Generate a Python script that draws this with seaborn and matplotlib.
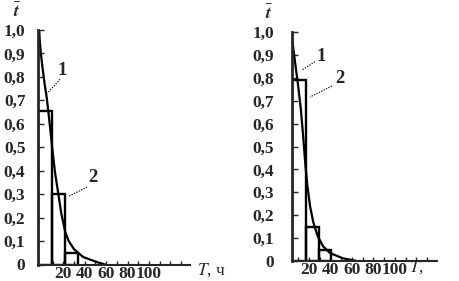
import numpy as np
import seaborn as sns
import matplotlib
matplotlib.use("Agg")
import matplotlib.pyplot as plt

sns.set_style("ticks")
plt.rcParams["font.family"] = ["Liberation Serif", "DejaVu Serif"]
plt.rcParams["mathtext.fontset"] = "stix"

# ---- data ----
# left panel
left_edges = [-3.7, 9.5, 21.7, 33.8]
left_heights = [0.655, 0.30, 0.049]
left_curve_x = [-2.6, -2.0, -1.0, 0.5, 2.5, 4.5, 6.0, 7.7, 9.5, 12.3, 15.0, 18.0, 21.7, 25.0, 30.0, 38.5, 51.6, 59.0]
left_curve_y = [1.0, 0.95, 0.90, 0.84, 0.77, 0.71, 0.65, 0.58, 0.50, 0.39, 0.31, 0.22, 0.14, 0.10, 0.065, 0.032, 0.01, 0.0]

# right panel
right_edges = [4.2, 17.2, 29.3, 40.5]
right_heights = [0.79, 0.15, 0.048]
right_curve_x = [4.3, 7.0, 9.8, 12.5, 14.5, 16.5, 18.5, 21.0, 24.0, 28.0, 33.0, 39.5, 51.5, 64.5]
right_curve_y = [0.97, 0.87, 0.77, 0.66, 0.55, 0.43, 0.33, 0.24, 0.17, 0.11, 0.065, 0.035, 0.012, 0.0]

y_ticks = [0, 0.1, 0.2, 0.3, 0.4, 0.5, 0.6, 0.7, 0.8, 0.9, 1.0]
y_tick_labels = ["0", "0,1", "0,2", "0,3", "0,4", "0,5", "0,6", "0,7", "0,8", "0,9", "1,0"]
x_ticks = [20, 40, 60, 80, 100]
x_tick_labels = ["20", "40", "60", "80", "100"]

W, H = 460, 281
fig = plt.figure(figsize=(W / 100, H / 100), dpi=100, facecolor="w")


def px_axes(l, r, b, t):
    return fig.add_axes([l / W, (H - b) / H, (r - l) / W, (b - t) / H])


def draw_panel(ax, edges, heights, cx, cy, xlim, ypad, lab1, lead1, lab2, lead2):
    centers = [(edges[i] + edges[i + 1]) / 2 for i in range(len(heights))]
    sns.histplot(x=centers, weights=heights, bins=edges, ax=ax, fill=False,
                 color="black", linewidth=1.7, element="bars")
    sns.lineplot(x=cx, y=cy, ax=ax, color="black", linewidth=1.6)
    ax.set_xlim(*xlim)
    ax.set_ylim(0, 1.0)
    ax.set_xlabel("")
    ax.set_ylabel("")
    for s in ["top", "right"]:
        ax.spines[s].set_visible(False)
    ax.spines["left"].set_linewidth(2)
    ax.spines["bottom"].set_linewidth(1.5)
    ax.set_yticks(y_ticks)
    ax.set_yticklabels(y_tick_labels, fontweight="bold")
    ax.set_xticks(x_ticks)
    ax.set_xticklabels(x_tick_labels, fontweight="bold")
    ax.set_xticks(np.arange(10, 140, 10), minor=True)
    ax.tick_params(axis="y", direction="in", length=4, width=1, pad=ypad, labelsize=12.5)
    ax.tick_params(axis="x", which="both", direction="in", length=3, width=1, pad=1, labelsize=12.5)
    ax.patch.set_alpha(0)
    for txt, (tx, ty), (x0, y0, x1, y1) in [(lab1[0], lab1[1:], lead1), (lab2[0], lab2[1:], lead2)]:
        ax.text(tx, ty, txt, fontsize=13.5, fontweight="bold", ha="center", va="center")
        ax.plot([x0, x1], [y0, y1], color="black", linewidth=0.8, linestyle=(0, (1.2, 1.2)))


axL = px_axes(38, 190, 264.5, 30)
draw_panel(axL, left_edges, left_heights, left_curve_x, left_curve_y, (-3.7, 138.4), 9,
           ("1", 18.9, 0.827), (17.0, 0.79, 4.9, 0.73),
           ("2", 47.9, 0.37), (42.2, 0.33, 24.5, 0.29))

axR = px_axes(292, 437, 261, 32)
draw_panel(axR, right_edges, right_heights, right_curve_x, right_curve_y, (4.2, 139.3), 13,
           ("1", 31.2, 0.895), (25.6, 0.87, 13.5, 0.834),
           ("2", 48.8, 0.795), (41.4, 0.764, 20.9, 0.716))

fig.text(17 / W, 1 - 12 / H, r"$\bar{\boldsymbol{t}}$", fontsize=13, ha="center", va="center")
fig.text(269 / W, 1 - 14 / H, r"$\bar{\boldsymbol{t}}$", fontsize=13, ha="center", va="center")
fig.text(197 / W, 1 - 270 / H, r"$T$, ч", fontsize=12.5, ha="left", va="center")
fig.text(409 / W, 1 - 267 / H, r"$T$,", fontsize=12.5, ha="left", va="center")

fig.savefig("out.png", dpi=100, facecolor="w")
